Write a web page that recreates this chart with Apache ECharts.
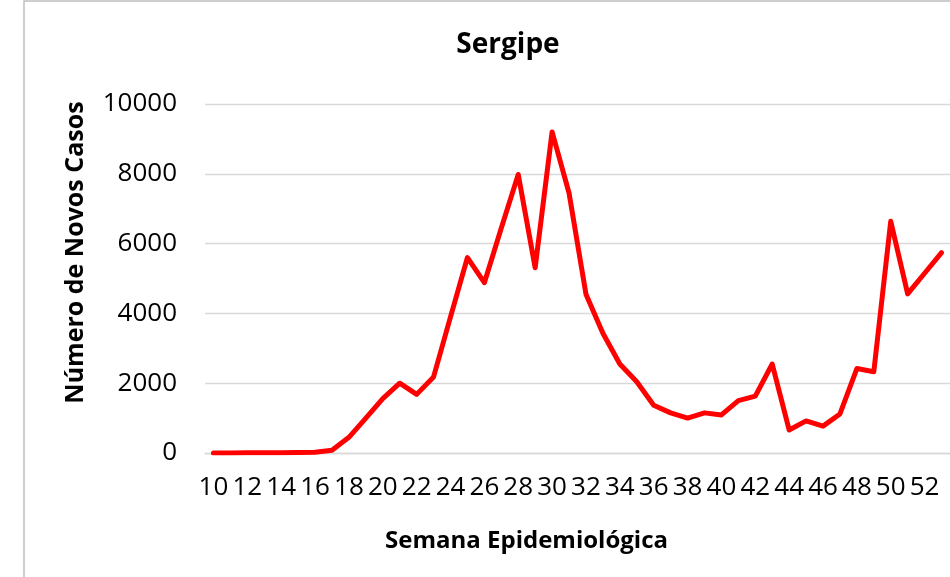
<!DOCTYPE html>
<html>
<head>
<meta charset="utf-8">
<script src="https://cdn.jsdelivr.net/npm/echarts@6/dist/echarts.min.js"></script>
<style>
  html, body { margin: 0; padding: 0; background: #fff; }
  #chart { width: 950px; height: 577px; }
</style>
</head>
<body>
<div id="chart"></div>
<script>
// semanas epidemiológicas 10..53
var semanas = [];
for (var s = 10; s <= 53; s++) semanas.push(String(s));

// novos casos por semana
var novosCasos = [
    0, 0, 10, 10, 10, 15, 20, 80, 450, 1000,
    1560, 2000, 1680, 2180, 3900, 5600, 4880, 6450, 7980, 5310,
    9200, 7450, 4550, 3430, 2550, 2040, 1370, 1150, 1000, 1150,
    1090, 1500, 1630, 2550, 660, 920, 770, 1120, 2420, 2330,
    6640, 4560, 5150, 5740
];

var fonte = 'Open Sans';

var myChart = echarts.init(document.getElementById('chart'));
var option = {
    animation: false,
    title: {
        text: 'Sergipe',
        left: 503,
        top: 26,
        textAlign: 'center',
        textStyle: { fontFamily: fonte, fontWeight: 'bold', fontSize: 28, color: '#000' }
    },
    graphic: [{
        type: 'rect',
        shape: { x: 24, y: 1, width: 1000, height: 700 },
        style: { fill: 'none', stroke: '#bfbfbf', lineWidth: 1.5 },
        silent: true
    }],
    grid: {
        left: 205,
        right: 0,
        top: 104,
        bottom: 124
    },
    xAxis: {
        type: 'category',
        data: semanas,
        boundaryGap: true,
        name: 'Semana Epidemiológica',
        nameLocation: 'middle',
        nameGap: 76,
        nameTextStyle: {
            fontFamily: fonte, fontWeight: 'bold', fontSize: 24, color: '#000',
            padding: [0, 102, 0, 0]
        },
        axisLine: { show: true, lineStyle: { color: '#d9d9d9', width: 1.3 } },
        axisTick: { show: false },
        axisLabel: {
            interval: 1,
            margin: 22,
            fontFamily: fonte, fontSize: 26, color: '#000'
        }
    },
    yAxis: {
        type: 'value',
        min: 0,
        max: 10000,
        interval: 2000,
        name: 'Número de Novos Casos',
        nameLocation: 'middle',
        nameGap: 117,
        nameTextStyle: {
            fontFamily: fonte, fontWeight: 'bold', fontSize: 25, color: '#000',
            padding: [0, 0, 0, 52]
        },
        axisLine: { show: false },
        axisTick: { show: false },
        axisLabel: {
            margin: 28,
            formatter: function (v) { return String(v); },
            fontFamily: fonte, fontSize: 26, color: '#000'
        },
        splitLine: { lineStyle: { color: '#d9d9d9', width: 1.3 } }
    },
    series: [{
        type: 'line',
        data: novosCasos,
        symbol: 'none',
        smooth: false,
        lineStyle: { color: '#ff0000', width: 5, cap: 'round', join: 'round' }
    }]
};
myChart.setOption(option);
window.addEventListener('resize', function () {
    myChart.resize();
});
</script>
</body>
</html>
